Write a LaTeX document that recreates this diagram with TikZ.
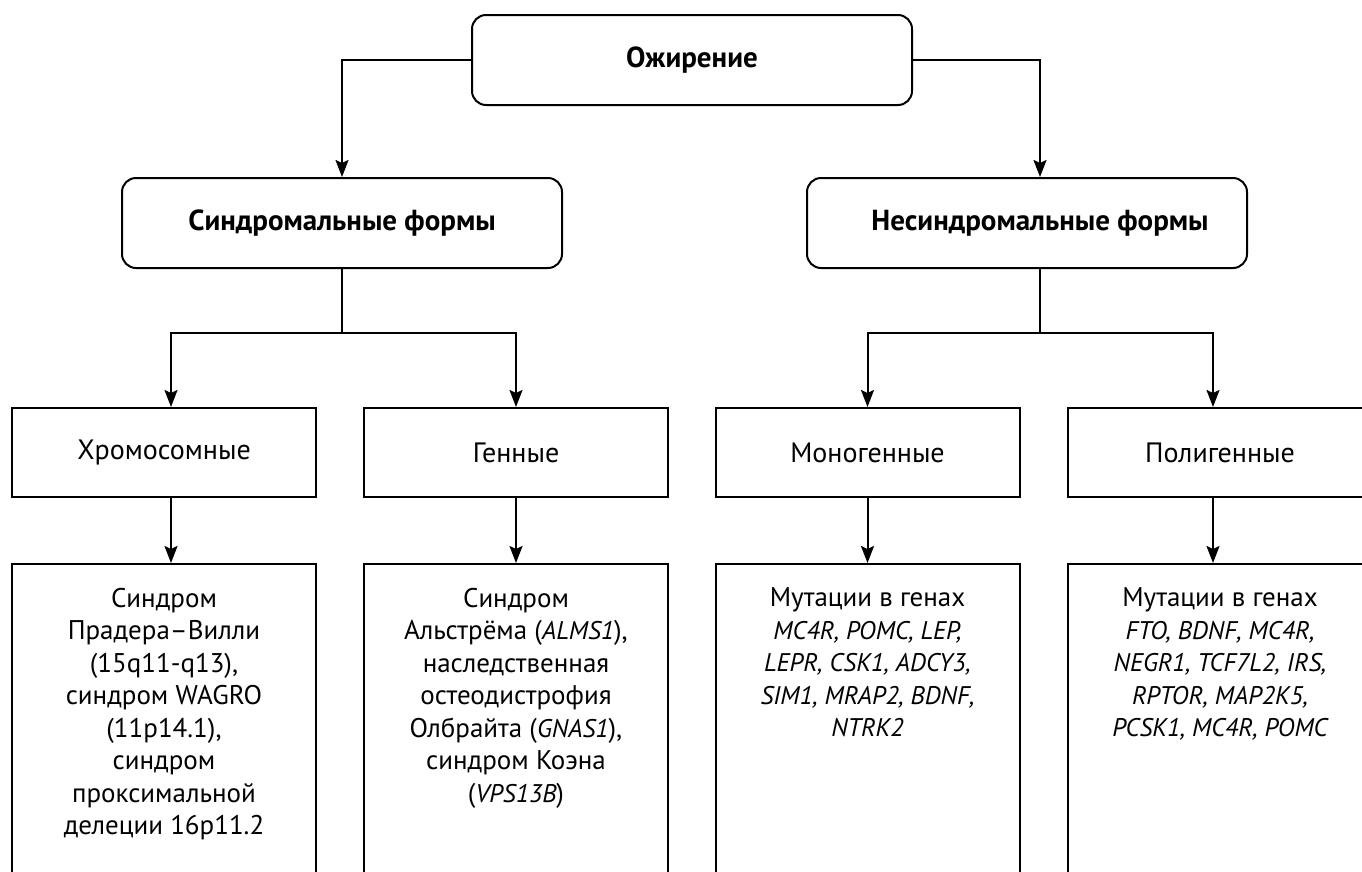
\documentclass[tikz,border=0pt]{standalone}
\usepackage{fontspec}
\setmainfont{PT Sans}
\usetikzlibrary{arrows.meta,positioning}
% gene names: italic, set a little smaller to keep the line widths
\newcommand{\gn}[1]{{\fontsize{25.5}{32.5}\selectfont\itshape #1}}

\tikzset{
  >={Stealth[length=17pt,width=13pt,inset=3pt]},
  formbox/.style ={draw, rounded corners=14pt, minimum width=440pt, minimum height=90pt,
                   font=\fontsize{29}{32}\selectfont\bfseries},
  groupbox/.style={draw, minimum width=304pt, minimum height=89pt,
                   font=\fontsize{28}{32}\selectfont},
  leafbox/.style ={draw, minimum width=304pt, minimum height=360pt, anchor=north},
  leaftext/.style={align=center, font=\fontsize{27}{32.5}\selectfont, inner sep=0pt},
}

\begin{document}
\begin{tikzpicture}[x=1pt, y=-1pt, line width=2pt]
\useasboundingbox (0,0) rectangle (1362,871);
\clip (0,0) rectangle (1362,871);

% level 1 and 2
\node[formbox] (obesity) at (692,60) {Ожирение};
\node[formbox] (synd) at (342,223) {Синдромальные формы};
\node[formbox] (nonsynd) at (1027,223) {};
\node[font=\fontsize{29}{32}\selectfont\bfseries] (nonsyndText) at (1040,223) {Несиндромальные формы};

% level 3
\node[groupbox] (chromo) at (164,452.5) {Хромосомные};
\node[groupbox] (genic) at (516,452.5) {Генные};
\node[groupbox] (monogen) at (867.5,452.5) {Моногенные};
\node[groupbox] (polygen) at (1220,452.5) {Полигенные};

% level 4 (boxes run past the lower edge)
\node[leafbox] (chromLeaf) at (164,563) {};
\node[leafbox] (genicLeaf) at (516,563) {};
\node[leafbox] (monoLeaf) at (867.5,563) {};
\node[leafbox] (polyLeaf) at (1220,563) {};

\node[leaftext, below=24pt of chromLeaf.north] (chromText)
  {Синдром\\Прадера–Вилли\\(15q11-q13),\\синдром WAGRO\\(11p14.1),\\синдром\\проксимальной\\делеции 16p11.2};
\node[leaftext, below=24pt of genicLeaf.north] (genicText)
  {Синдром\\Альстрёма (\gn{ALMS1}),\\наследственная\\остеодистрофия\\Олбрайта (\gn{GNAS1}),\\синдром Коэна\\(\gn{VPS13B})};
\node[leaftext, below=24pt of monoLeaf.north] (monoText)
  {Мутации в генах\\\gn{MC4R, POMC, LEP,}\\\gn{LEPR, CSK1, ADCY3,}\\\gn{SIM1, MRAP2, BDNF,}\\\gn{NTRK2}};
\node[leaftext, below=24pt of polyLeaf.north] (polyText)
  {Мутации в генах\\\gn{FTO, BDNF, MC4R,}\\\gn{NEGR1, TCF7L2, IRS,}\\\gn{RPTOR, MAP2K5,}\\\gn{PCSK1, MC4R, POMC}};

% forks
\coordinate (syndFork) at (342,333);
\coordinate (nonsyndFork) at (1040,333);
\coordinate (chromTap) at (171,333);
\coordinate (polyTap) at (1213,333);

% connectors
\draw[->] (obesity.west) -| (synd.north);
\draw[->] (obesity.east) -| (nonsynd.north -| nonsyndText);
\draw (synd.south) -- (syndFork);
\draw (nonsynd.south -| nonsyndFork) -- (nonsyndFork);
\draw[->] (syndFork) -| (chromo.north -| chromTap);
\draw[->] (syndFork) -| (genic.north);
\draw[->] (nonsyndFork) -| (monogen.north);
\draw[->] (nonsyndFork) -| (polygen.north -| polyTap);

\draw[->] (chromo.south -| chromTap) -- (chromLeaf.north -| chromTap);
\foreach \g/\l in {genic/genicLeaf, monogen/monoLeaf}
  \draw[->] (\g.south) -- (\l.north);
\draw[->] (polygen.south -| polyTap) -- (polyLeaf.north -| polyTap);
\end{tikzpicture}
\end{document}
